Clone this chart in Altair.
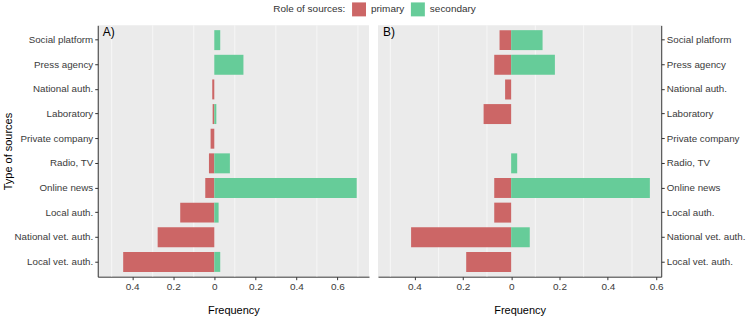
import altair as alt
import pandas as pd

categories = ["Social platform", "Press agency", "National auth.", "Laboratory",
              "Private company", "Radio, TV", "Online news", "Local auth.",
              "National vet. auth.", "Local vet. auth."]
roles = ["primary", "secondary"]
a_primary = [0.0, 0.0, 0.010, 0.008, 0.018, 0.026, 0.044, 0.166, 0.276, 0.444]
a_secondary = [0.029, 0.142, 0.0, 0.010, 0.0, 0.076, 0.694, 0.021, 0.0, 0.029]
b_primary = [0.048, 0.070, 0.025, 0.114, 0.0, 0.0, 0.070, 0.070, 0.414, 0.186]
b_secondary = [0.130, 0.181, 0.0, 0.0, 0.0, 0.025, 0.574, 0.0, 0.077, 0.0]
tick_values = [-0.4, -0.2, 0, 0.2, 0.4, 0.6]
grid_a = [-0.5, -0.3, -0.1, 0.1, 0.3, 0.5, 0.7]
grid_b = [-0.5, -0.3, -0.1, 0.1, 0.3, 0.5]
domain_a = [-0.568, 0.754]
domain_b = [-0.551, 0.621]
colors = ["#CC6666", "#66CC99"]
FONT = "Liberation Sans"


def long_df(prim, sec):
    rows = []
    for c, p, s in zip(categories, prim, sec):
        rows.append({"category": c, "role": "primary", "signed": -p})
        rows.append({"category": c, "role": "secondary", "signed": s})
    return pd.DataFrame(rows)


def panel(prim, sec, grid, domain, label, orient, width, ytitle):
    xenc = alt.X("signed:Q",
                 scale=alt.Scale(domain=domain, nice=False, zero=False),
                 axis=alt.Axis(values=tick_values, grid=False, title="Frequency",
                               labelExpr="format(abs(datum.value), '.1~f')",
                               titlePadding=13))
    yenc = alt.Y("category:N", sort=categories,
                 scale=alt.Scale(paddingInner=0.19, paddingOuter=0.195),
                 axis=alt.Axis(orient=orient, title=ytitle, titlePadding=1,
                               labelFontSize=9.8))
    gridlayer = alt.Chart(pd.DataFrame({"signed": grid})).mark_rule(
        color="white", strokeWidth=1, opacity=0.6).encode(x=xenc)
    bars = alt.Chart(long_df(prim, sec)).mark_bar().encode(
        x=xenc, x2=alt.datum(0), y=yenc,
        color=alt.Color("role:N", scale=alt.Scale(domain=roles, range=colors),
                        legend=alt.Legend(title="Role of sources:", orient="none",
                                          direction="horizontal", titleOrient="left",
                                          legendX=176, legendY=-23,
                                          symbolType="square", symbolSize=196,
                                          symbolStrokeWidth=0,
                                          columnPadding=6, labelOffset=5,
                                          titlePadding=6, titleColor="#333333")))
    text = alt.Chart(pd.DataFrame({"label": [label]})).mark_text(
        align="left", baseline="middle", fontSize=12, font=FONT, dx=5, dy=-8,
        color="black").encode(
        x=alt.datum(domain[0]), y=alt.datum(categories[0]), text="label:N")
    return alt.layer(gridlayer, bars, text).properties(width=width, height=252)


pa = panel(a_primary, a_secondary, grid_a, domain_a, "A)", "left", 272, "Type of sources")
pb = panel(b_primary, b_secondary, grid_b, domain_b, "B)", "right", 284, None)

chart = alt.hconcat(pa, pb, spacing=9).resolve_scale(
    x="independent", y="shared", color="shared"
).configure_view(fill="#EBEBEB", stroke=None).configure_axis(
    domainColor="#333333", domainWidth=1, tickColor="#333333", tickSize=3,
    labelColor="#3A3A3A", labelFont=FONT, labelFontSize=10, labelPadding=2,
    titleFont=FONT, titleFontSize=11, titleFontWeight="normal", titleColor="black"
).configure_legend(
    labelFont=FONT, labelFontSize=10, labelColor="#333333",
    titleFont=FONT, titleFontSize=10, titleFontWeight="normal", titleColor="#333333"
).properties(padding={"left": 2, "top": 2, "right": 2, "bottom": 0}, background="white")

chart.save("out.html", embed_options={"renderer": "svg", "actions": False})
